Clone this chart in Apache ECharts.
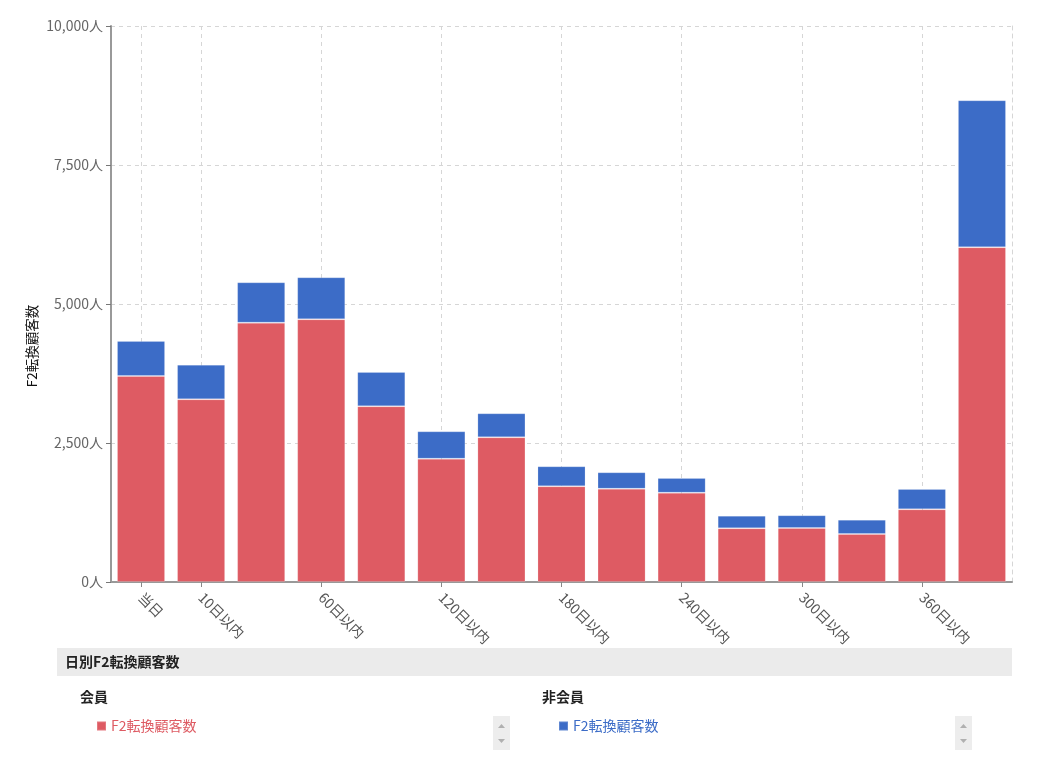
<!DOCTYPE html>
<html><head><meta charset="utf-8">
<script src="https://cdn.jsdelivr.net/npm/echarts@6/dist/echarts.min.js"></script>
<style>html,body{margin:0;padding:0;background:#fff}#c{width:1039px;height:760px}</style>
</head><body><div id="c"></div>
<script>
const categories = ['当日','10日以内','30日以内','60日以内','90日以内','120日以内','150日以内','180日以内','210日以内','240日以内','270日以内','300日以内','330日以内','360日以内','360日超'];
const memberValues = [3705,3286,4664,4725,3160,2218,2602,1721,1678,1606,966,971,863,1307,6020];
const nonMemberValues = [630,622,726,755,617,492,432,360,295,265,226,229,258,366,2644];
const yTicks = [0,2500,5000,7500,10000];
const shownLabelIndex = [0,1,3,5,7,9,11,13];

const FONT = 'Noto Sans CJK JP';
const RED = '#de5b63', BLUE = '#3c6cc7';
const chart = echarts.init(document.getElementById('c'));
const showIdx = (i) => shownLabelIndex.indexOf(i) >= 0;

chart.setOption({
  animation: false,
  textStyle: {fontFamily: FONT},
  grid: {left: 111, right: 27, top: 26, bottom: 178, containLabel: false},
  xAxis: {
    type: 'category', data: categories, boundaryGap: true,
    axisLine: {lineStyle: {color: '#999', width: 2}},
    axisTick: {show: true, alignWithLabel: true, interval: showIdx, length: 5, lineStyle: {color: '#888'}},
    axisLabel: {interval: showIdx, rotate: -45, color: '#555', fontSize: 14, margin: 13, fontFamily: FONT},
    splitLine: {show: true, alignWithLabel: true, interval: showIdx, lineStyle: {color: '#d6d6d6', type: [4, 4]}}
  },
  yAxis: [{
    type: 'value', min: yTicks[0], max: yTicks[yTicks.length-1], interval: yTicks[1]-yTicks[0],
    axisLine: {show: true, lineStyle: {color: '#999', width: 2}},
    axisTick: {show: true, length: 5, lineStyle: {color: '#777'}},
    axisLabel: {color: '#666', fontSize: 14, margin: 8, fontFamily: FONT,
      formatter: v => v.toLocaleString('en-US') + '人'},
    splitLine: {show: true, lineStyle: {color: '#d6d6d6', type: [4, 4]}}
  }, {
    type: 'value', position: 'right', min: 0, max: 10000,
    axisLine: {show: true, lineStyle: {color: '#d6d6d6', type: [4, 4]}},
    axisTick: {show: false}, axisLabel: {show: false}, splitLine: {show: false}
  }],
  legend: [{
    data: ['会員F2'], left: 96, top: 719, padding: 0, icon: 'rect', itemWidth: 9, itemHeight: 9, itemGap: 5,
    formatter: () => 'F2転換顧客数', textStyle: {color: RED, fontSize: 14, fontFamily: FONT}, selectedMode: false
  }, {
    data: ['非会員F2'], left: 558, top: 719, padding: 0, icon: 'rect', itemWidth: 9, itemHeight: 9, itemGap: 5,
    formatter: () => 'F2転換顧客数', textStyle: {color: BLUE, fontSize: 14, fontFamily: FONT}, selectedMode: false
  }],
  graphic: [
    {type: 'text', x: 32, y: 346, rotation: Math.PI/2,
     style: {text: 'F2転換顧客数', fill: '#111', font: '13.5px "' + FONT + '"', align: 'center', verticalAlign: 'middle'}},
    {type: 'rect', shape: {x: 57, y: 648, width: 955, height: 28}, style: {fill: '#ebebeb'}},
    {type: 'text', x: 65, y: 662, style: {text: '日別F2転換顧客数', fill: '#222', font: 'bold 14px "' + FONT + '"', verticalAlign: 'middle'}},
    {type: 'text', x: 80, y: 697, style: {text: '会員', fill: '#222', font: 'bold 14px "' + FONT + '"', verticalAlign: 'middle'}},
    {type: 'text', x: 542, y: 697, style: {text: '非会員', fill: '#222', font: 'bold 14px "' + FONT + '"', verticalAlign: 'middle'}},
    {type: 'rect', shape: {x: 493, y: 716, width: 17, height: 34}, style: {fill: '#ededed'}},
    {type: 'polygon', shape: {points: [[498,728],[505,728],[501.5,724]]}, style: {fill: '#b0b0b0'}},
    {type: 'polygon', shape: {points: [[498,739],[505,739],[501.5,743]]}, style: {fill: '#b0b0b0'}},
    {type: 'rect', shape: {x: 955, y: 716, width: 17, height: 34}, style: {fill: '#ededed'}},
    {type: 'polygon', shape: {points: [[960,728],[967,728],[963.5,724]]}, style: {fill: '#b0b0b0'}},
    {type: 'polygon', shape: {points: [[960,739],[967,739],[963.5,743]]}, style: {fill: '#b0b0b0'}}
  ],
  series: [{
    name: '会員F2', type: 'bar', stack: 'total', data: memberValues, barCategoryGap: '20%',
    itemStyle: {color: RED, borderColor: 'rgba(255,255,255,0.18)', borderWidth: 1}
  }, {
    name: '非会員F2', type: 'bar', stack: 'total', data: nonMemberValues, barCategoryGap: '20%',
    itemStyle: {color: BLUE, borderColor: 'rgba(255,255,255,0.18)', borderWidth: 1}
  }]
});
</script></body></html>
